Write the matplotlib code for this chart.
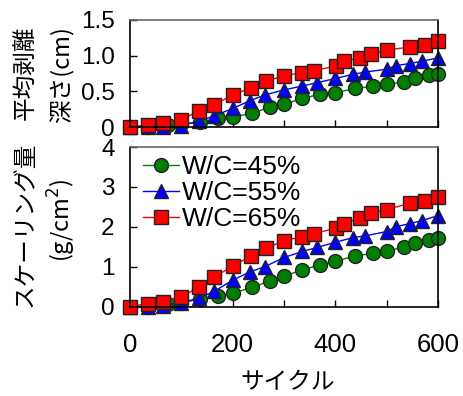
import matplotlib
matplotlib.use("Agg")
import matplotlib.pyplot as plt
from matplotlib.ticker import MultipleLocator, FuncFormatter

plt.rcParams['font.family'] = ['Liberation Sans', 'Noto Sans CJK JP']

# cycles and measured values for each water-cement ratio
cycles_45 = [0, 36, 74, 100, 136, 172, 200, 237, 273, 300, 336, 370, 400, 438, 474, 500, 533, 556, 582, 600]
cycles_55 = [0, 36, 64, 100, 135, 164, 200, 234, 263, 300, 336, 364, 400, 435, 458, 500, 518, 545, 568, 600]
cycles_65 = [0, 36, 64, 100, 135, 164, 200, 236, 265, 300, 335, 358, 401, 417, 448, 469, 500, 545, 575, 600]

depth_45 = [0, 0.0, 0.03, 0.04, 0.07, 0.12, 0.14, 0.19, 0.28, 0.32, 0.40, 0.46, 0.48, 0.54, 0.57, 0.60, 0.63, 0.68, 0.73, 0.75]
depth_55 = [0, 0.0, 0.005, 0.02, 0.085, 0.155, 0.26, 0.37, 0.45, 0.52, 0.575, 0.62, 0.68, 0.74, 0.77, 0.81, 0.86, 0.89, 0.92, 0.97]
depth_65 = [0, 0.03, 0.05, 0.10, 0.23, 0.31, 0.45, 0.55, 0.64, 0.72, 0.76, 0.79, 0.855, 0.92, 0.97, 1.02, 1.08, 1.12, 1.15, 1.20]

scale_45 = [0, 0.0, 0.075, 0.10, 0.18, 0.27, 0.33, 0.48, 0.64, 0.77, 0.91, 1.05, 1.13, 1.27, 1.33, 1.40, 1.48, 1.58, 1.67, 1.72]
scale_55 = [0, 0.0, 0.02, 0.10, 0.21, 0.38, 0.66, 0.87, 1.00, 1.23, 1.38, 1.48, 1.61, 1.73, 1.77, 1.88, 2.00, 2.08, 2.15, 2.28]
scale_65 = [0, 0.075, 0.12, 0.24, 0.49, 0.73, 1.02, 1.27, 1.46, 1.65, 1.75, 1.82, 1.97, 2.08, 2.22, 2.34, 2.43, 2.59, 2.64, 2.75]

labels = ['W/C=45%', 'W/C=55%', 'W/C=65%']
x_ticks = [0, 200, 400, 600]

series = [
    (cycles_45, depth_45, scale_45, '#008000', 'o'),
    (cycles_55, depth_55, scale_55, '#0000ff', '^'),
    (cycles_65, depth_65, scale_65, '#ff0000', 's'),
]

W, H = 464, 396
fig = plt.figure(figsize=(W / 100, H / 100), dpi=100)
ax1 = fig.add_axes([130 / W, 1 - 127 / H, 308 / W, 107 / H])
ax2 = fig.add_axes([130 / W, 1 - 306.5 / H, 308 / W, 159.5 / H])

for (cx, d, s, c, m), lab in zip(series, labels):
    kw = dict(color=c, lw=1, marker=m, markersize=10, markerfacecolor=c,
              markeredgecolor='#222222', markeredgewidth=1, clip_on=False)
    ax1.plot(cx, d, **kw)
    ax2.plot(cx, s, label=lab, **kw)

for ax in (ax1, ax2):
    ax.set_xlim(0, 600)
    ax.xaxis.set_major_locator(MultipleLocator(100))
    ax.tick_params(direction='in', length=5, width=1)
    ax.tick_params(axis='y', labelsize=17.5, pad=11)
    ax.tick_params(axis='x', labelsize=18.5, pad=19)
    for sp in ax.spines.values():
        sp.set_linewidth(1.2)
    ax.spines['top'].set_color('#666666')

ax1.set_ylim(0, 1.5)
ax1.set_yticks([0, 0.5, 1.0, 1.5])
ax1.set_yticklabels(['0', '0.5', '1.0', '1.5'])
ax1.tick_params(axis='x', labelbottom=False)

ax2.set_ylim(0, 4)
ax2.set_yticks([0, 1, 2, 3, 4])
ax2.xaxis.set_major_formatter(FuncFormatter(lambda v, p: f'{int(v)}' if int(v) in x_ticks else ''))

# axis titles
cjk = ['Noto Sans CJK JP', 'DejaVu Sans']
fs_lab = 17
fig.text(25 / W, 1 - 73 / H, '平均剥離', rotation=90, ha='center', va='center', fontsize=fs_lab, family=cjk)
fig.text(62 / W, 1 - 75 / H, '深さ(cm)', rotation=90, ha='center', va='center', fontsize=fs_lab, family=cjk)
fig.text(25 / W, 1 - 224 / H, 'スケーリング量', rotation=90, ha='center', va='center', fontsize=fs_lab, family=cjk)
fig.text(62 / W, 1 - 220 / H, '(g/cm$^2$)', rotation=90, ha='center', va='center', fontsize=fs_lab, family=cjk)
fig.text(288 / W, 1 - 383 / H, 'サイクル', ha='center', va='center', fontsize=fs_lab, family=cjk)

ax2.legend(loc='upper left', bbox_to_anchor=(0.015, 1.0), frameon=False,
           fontsize=19, handlelength=1.4, handletextpad=0.08,
           labelspacing=0.08, borderaxespad=0.1, borderpad=0.2)

fig.savefig('out.png', dpi=100)
